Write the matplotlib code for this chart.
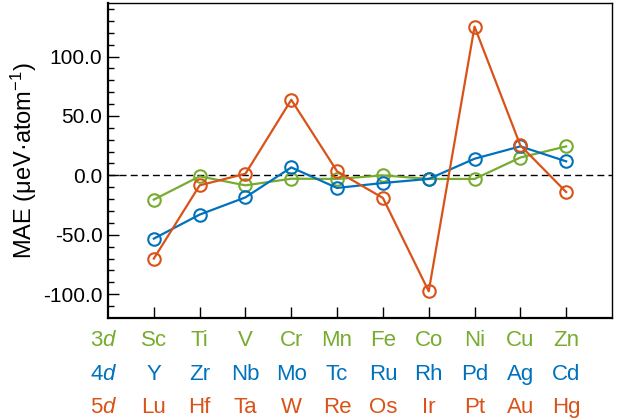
import matplotlib
matplotlib.use("Agg")
import matplotlib.pyplot as plt
import numpy as np

plt.rcParams['font.family'] = ['Liberation Sans', 'DejaVu Sans']
plt.rcParams['mathtext.fontset'] = 'custom'
plt.rcParams['mathtext.rm'] = 'Liberation Sans'
plt.rcParams['mathtext.it'] = 'Liberation Sans:italic'

# elements per row
el_3d = ['Sc', 'Ti', 'V', 'Cr', 'Mn', 'Fe', 'Co', 'Ni', 'Cu', 'Zn']
el_4d = ['Y', 'Zr', 'Nb', 'Mo', 'Tc', 'Ru', 'Rh', 'Pd', 'Ag', 'Cd']
el_5d = ['Lu', 'Hf', 'Ta', 'W', 'Re', 'Os', 'Ir', 'Pt', 'Au', 'Hg']

# MAE values (ueV/atom)
mae_3d = [-20.4, -0.8, -8.4, -2.8, -3.0, 0.0, -3.0, -3.0, 15.0, 24.4]
mae_4d = [-53.2, -33.0, -18.5, 6.7, -10.6, -6.4, -3.0, 14.0, 24.4, 11.8]
mae_5d = [-70.0, -8.4, 1.4, 63.6, 3.4, -19.0, -97.5, 125.2, 25.2, -14.0]

c3 = '#77AC30'
c4 = '#0072BD'
c5 = '#D95319'

x = np.arange(1, 11)

fig = plt.figure(figsize=(6.23, 4.18), dpi=100)
ax = fig.add_axes([0.1734, 0.2392, 0.8089, 0.7536])

ax.axhline(0, color='black', lw=1.0, ls=(0, (5, 3)), zorder=1)

for vals, c in [(mae_3d, c3), (mae_4d, c4), (mae_5d, c5)]:
    ax.plot(x, vals, color=c, lw=1.6, marker='o', ms=9, mfc='none',
            mec=c, mew=1.5, zorder=3)

ax.set_xlim(0, 11)
ax.set_ylim(-120, 145)
ax.set_yticks([-100, -50, 0, 50, 100])
ax.set_yticklabels(['-100.0', '-50.0', '0.0', '50.0', '100.0'])
ax.set_yticks(np.arange(-110, 141, 10), minor=True)
ax.set_xticks(x)
ax.set_xticklabels([])
ax.tick_params(axis='y', which='major', direction='in', length=8, width=1,
               labelsize=15, right=False, pad=4)
ax.tick_params(axis='y', which='minor', direction='in', length=4, width=1)
ax.tick_params(axis='x', which='major', direction='in', length=8, width=1,
               top=False)
for s in ax.spines.values():
    s.set_linewidth(1.0)
ax.spines['bottom'].set_linewidth(1.6)
ax.spines['left'].set_linewidth(1.6)

ax.set_ylabel('MAE (μeV·atom$^{-1}$)', fontsize=17, labelpad=3)

tr = ax.get_xaxis_transform()
rows = [('3', el_3d, c3, -0.07), ('4', el_4d, c4, -0.178), ('5', el_5d, c5, -0.283)]
for n, els, c, yy in rows:
    ax.text(-0.1, yy, n + '$\\mathit{d}$', color=c, fontsize=16,
            ha='center', va='center', transform=tr)
    for xi, e in zip(x, els):
        ax.text(xi, yy, e, color=c, fontsize=16, ha='center', va='center',
                transform=tr)

fig.savefig('out.png', dpi=100)
